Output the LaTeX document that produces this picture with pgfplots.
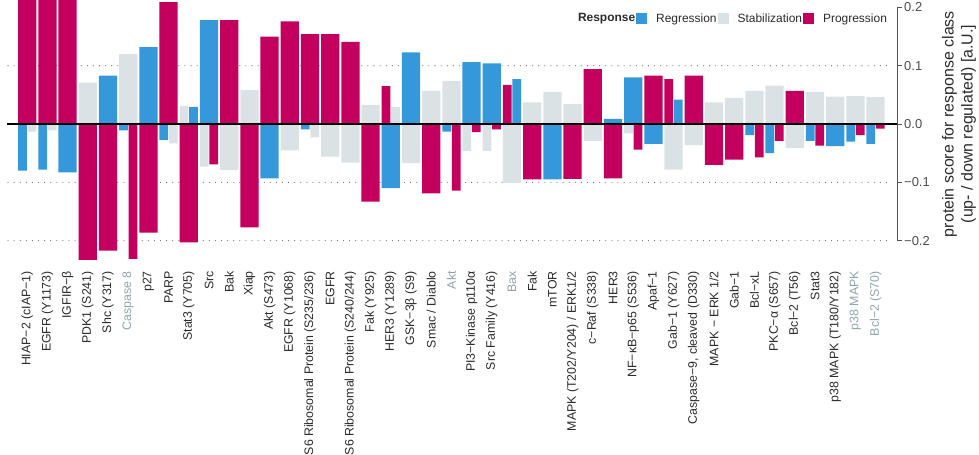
\documentclass[border=0pt]{standalone}
\usepackage{pgfplots}
\pgfplotsset{compat=1.18}
\usepackage{fontspec}
\setmainfont{Liberation Sans}
\definecolor{cBlue}{HTML}{3498DB}
\definecolor{cGrey}{HTML}{DAE2E5}
\definecolor{cMag}{HTML}{C4005E}
\definecolor{cLab}{HTML}{8FA5AA}
\definecolor{cTxt}{HTML}{2B2B2B}
\pgfplotsset{sqlegend/.style={legend image code/.code={\fill[draw=none,##1] (0bp,-5.5bp) rectangle (11bp,5.5bp);}}}
\begin{document}
\begin{tikzpicture}
\begin{axis}[
  name=ax,
  scale only axis, width=890bp, height=264bp,
  xmin=0, xmax=44.06, ymin=-0.24, ymax=0.2127,
  axis line style={draw=none},
  xtick={1,...,43}, xtick pos=bottom, xtick style={draw=none},
  xticklabels={HIAP−2 (cIAP−1),EGFR (Y1173),IGFIR−β,PDK1 (S241),Shc (Y317),\textcolor{cLab}{Caspase 8},p27,PARP,Stat3 (Y705),Src,Bak,Xiap,Akt (S473),EGFR (Y1068),S6 Ribosomal Protein (S235/236),EGFR,S6 Ribosomal Protein (S240/244),Fak (Y925),HER3 (Y1289),GSK−3β (S9),Smac / Diablo,\textcolor{cLab}{Akt},PI3−Kinase p110α,Src Family (Y416),\textcolor{cLab}{Bax},Fak,mTOR,MAPK (T202/Y204) / ERK1/2,c−Raf (S338),HER3,NF−κB−p65 (S536),Apaf−1,Gab−1 (Y627),{Caspase−9, cleaved (D330)},MAPK − ERK 1/2,Gab−1,Bcl−xL,PKC−α (S657),Bcl−2 (T56),Stat3,p38 MAPK (T180/Y182),\textcolor{cLab}{p38 MAPK},\textcolor{cLab}{Bcl−2 (S70)}},
  xticklabel style={rotate=90, anchor=east, inner sep=2bp, text=cTxt, font=\fontsize{12.4}{14}\selectfont},
  ytick={-0.2,-0.1,0,0.1,0.2},
  yticklabels={−0.2,−0.1,0.0,0.1,0.2},
  ytick pos=right, yticklabel pos=right, tick align=outside, major tick length=5bp,
  ytick style={draw=cTxt!80, line width=0.8bp},
  yticklabel style={text=cTxt!85, font=\fontsize{13}{15}\selectfont, inner sep=2bp},
  legend style={at={(rel axis cs:0.99,0.93)}, anchor=east, draw=none, fill=none,
    inner sep=0pt, legend columns=-1, font=\fontsize{12}{14}\selectfont, text=cTxt,
    nodes={inner sep=1bp},
    /tikz/every odd column/.append style={column sep=8bp}},
]
\draw[cTxt!75, line width=1.1bp, line cap=round, dash pattern=on 0bp off 6.1bp] (axis cs:0.05,0.1) -- (axis cs:43.8,0.1);
\draw[cTxt!75, line width=1.1bp, line cap=round, dash pattern=on 0bp off 6.1bp] (axis cs:0.05,-0.1) -- (axis cs:43.8,-0.1);
\draw[cTxt!75, line width=1.1bp, line cap=round, dash pattern=on 0bp off 6.1bp] (axis cs:0.05,-0.2) -- (axis cs:43.8,-0.2);
% Regression (blue)
\addplot[ybar, bar width=0.905, bar shift=0, fill=cBlue, draw=none, forget plot] coordinates {(3,-0.083) (5,0.083) (7,0.132) (10,0.178) (13,-0.093) (19,-0.110) (20,0.123) (23,0.106) (24,0.104) (27,-0.095) (30,0.009) (31,0.080) (32,-0.034) (41,-0.038)};
\addplot[ybar, bar width=0.435, bar shift=-0.235, fill=cBlue, draw=none, forget plot] coordinates {(1,-0.080) (2,-0.078) (6,-0.011) (8,-0.027) (15,-0.009) (22,-0.013) (37,-0.019) (38,-0.050) (40,-0.029) (42,-0.030) (43,-0.034)};
\addplot[ybar, bar width=0.435, bar shift=0.235, fill=cBlue, draw=none, forget plot] coordinates {(9,0.029) (25,0.077) (33,0.042)};
% Stabilization (grey)
\addplot[ybar, bar width=0.905, bar shift=0, fill=cGrey, draw=none, forget plot] coordinates {(4,0.071) (6,0.120) (11,-0.079) (12,0.058) (14,-0.045) (16,-0.056) (17,-0.066) (18,0.033) (20,-0.067) (21,0.057) (22,0.074) (25,-0.101) (26,0.037) (27,0.055) (28,0.034) (29,-0.029) (33,-0.078) (34,-0.036) (35,0.037) (36,0.045) (37,0.057) (38,0.066) (39,-0.041) (40,0.055) (41,0.047) (42,0.048) (43,0.046)};
\addplot[ybar, bar width=0.435, bar shift=-0.235, fill=cGrey, draw=none, forget plot] coordinates {(9,0.031) (10,-0.073) (23,-0.046) (24,-0.046) (31,-0.016)};
\addplot[ybar, bar width=0.435, bar shift=0.235, fill=cGrey, draw=none, forget plot] coordinates {(1,-0.013) (2,-0.011) (8,-0.033) (15,-0.023) (19,0.029)};
% Progression (magenta)
\addplot[ybar, bar width=0.905, bar shift=0, fill=cMag, draw=none, forget plot] coordinates {(1,0.26) (2,0.26) (3,0.26) (4,-0.233) (5,-0.217) (7,-0.186) (8,0.209) (9,-0.203) (11,0.178) (12,-0.177) (13,0.150) (14,0.176) (15,0.154) (16,0.154) (17,0.141) (18,-0.133) (21,-0.119) (26,-0.095) (28,-0.094) (29,0.094) (30,-0.093) (32,0.083) (34,0.083) (35,-0.070) (36,-0.061) (39,0.057)};
\addplot[ybar, bar width=0.435, bar shift=-0.235, fill=cMag, draw=none, forget plot] coordinates {(19,0.065) (25,0.067) (33,0.077)};
\addplot[ybar, bar width=0.435, bar shift=0.235, fill=cMag, draw=none, forget plot] coordinates {(6,-0.231) (10,-0.069) (22,-0.114) (23,-0.014) (24,-0.009) (31,-0.044) (37,-0.057) (38,-0.029) (40,-0.037) (42,-0.019) (43,-0.008)};
\draw[black, line width=2bp] (axis cs:0,0) -- (axis cs:44.06,0);
\coordinate (sp1) at (axis cs:44.06,-0.2);
\coordinate (sp2) at (axis cs:44.06,0.2);
\coordinate (zr) at (axis cs:44.06,0);
\addlegendimage{empty legend}
\addlegendentry{\textbf{Response}}
\addlegendimage{sqlegend, fill=cBlue}
\addlegendentry{Regression}
\addlegendimage{sqlegend, fill=cGrey}
\addlegendentry{Stabilization}
\addlegendimage{sqlegend, fill=cMag}
\addlegendentry{Progression}
\end{axis}
\draw[cTxt!80, line width=0.9bp] (sp1) -- (sp2);
\node[rotate=90, align=center, text=cTxt, font=\fontsize{16}{19}\selectfont] at ([xshift=62bp]zr) {protein score for response class\\(up- / down regulated) [a.U.]};
\pgfresetboundingbox
\path ([xshift=-7bp,yshift=-191bp]ax.south west) rectangle ++(979bp,455bp);
\end{tikzpicture}
\end{document}
